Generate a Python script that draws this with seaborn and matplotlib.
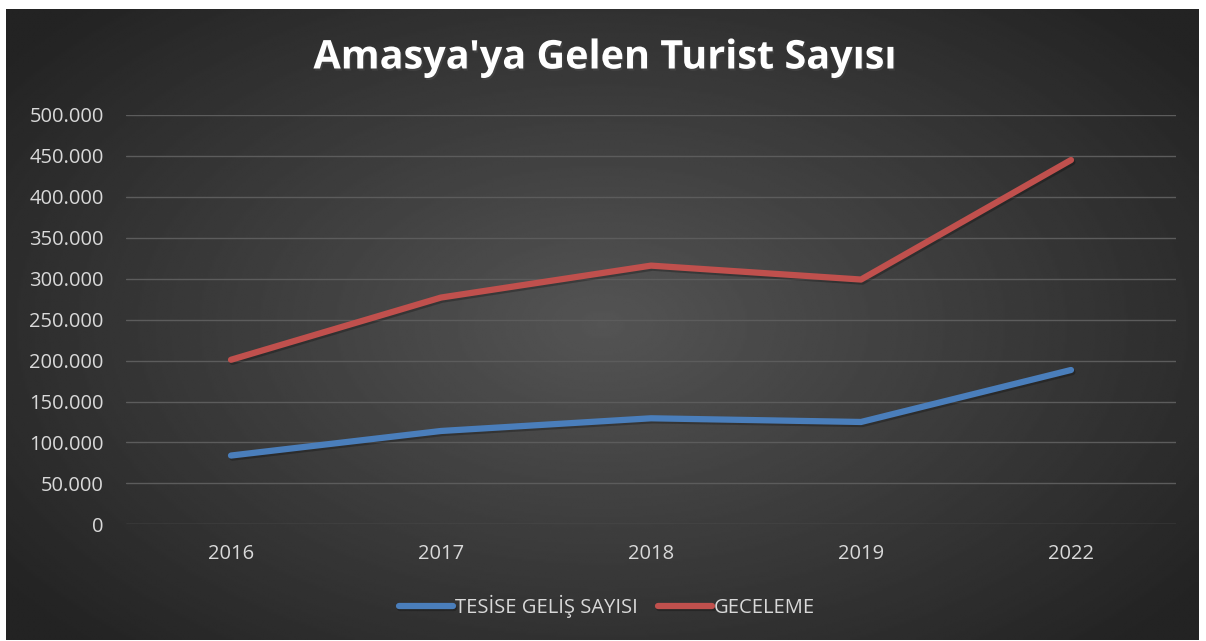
import matplotlib.pyplot as plt
import matplotlib.patheffects as pe
from matplotlib.ticker import FuncFormatter
import seaborn as sns
import pandas as pd
import numpy as np

# data
years = ["2016", "2017", "2018", "2019", "2022"]
tesise_gelis = [84000, 114000, 129500, 125000, 188500]
geceleme = [201000, 277000, 316000, 299000, 445000]
series_names = ["TESİSE GELİŞ SAYISI", "GECELEME"]

df = pd.DataFrame({
    "Yıl": years * 2,
    "Sayı": tesise_gelis + geceleme,
    "Seri": [series_names[0]] * len(years) + [series_names[1]] * len(years),
})

sns.set_style("dark")
plt.rcParams['font.family'] = ['Open Sans', 'DejaVu Sans']

fig = plt.figure(figsize=(12.06, 6.41), dpi=100)
fig.patch.set_facecolor('white')

# dark radial gradient background
bg = fig.add_axes([6 / 1206, 1 / 641, 1193 / 1206, 631 / 641])
yy, xx = np.mgrid[-1:1:300j, -1:1:600j]
r = np.sqrt((xx * 0.9) ** 2 + (yy * 0.8) ** 2)
shade = np.clip(0.33 - 0.17 * r, 0.14, 0.33)
bg.imshow(shade, cmap='gray', vmin=0, vmax=1, aspect='auto', interpolation='bilinear')
bg.set_axis_off()

ax = fig.add_axes([126 / 1206, (641 - 524.3) / 641, 1050 / 1206, 409.3 / 641])
ax.patch.set_alpha(0)

palette = {series_names[0]: "#4A7EBB", series_names[1]: "#C0504D"}
sns.lineplot(data=df, x="Yıl", y="Sayı", hue="Seri", palette=palette, sort=False,
             linewidth=4.5, ax=ax, legend=True)
for ln in ax.lines:
    ln.set_solid_capstyle('round')
    ln.set_path_effects([pe.SimpleLineShadow(offset=(1, -1.5), alpha=0.25, shadow_color='black'),
                         pe.Normal()])

ax.set_xlim(-0.5, 4.5)
ax.set_ylim(0, 500000)
ax.set_yticks(np.arange(0, 500001, 50000))
ax.yaxis.set_major_formatter(FuncFormatter(lambda v, p: f"{int(v):,}".replace(",", ".")))
ax.grid(axis='y', color='#5c5c5c', linewidth=1)
ax.grid(axis='x', visible=False)
for s in ax.spines.values():
    s.set_visible(False)
ax.tick_params(axis='both', colors='#d9d9d9', labelsize=14.5, length=0)
ax.tick_params(axis='y', pad=16)
ax.tick_params(axis='x', pad=14)
ax.set_xlabel("")
ax.set_ylabel("")

leg = ax.legend(loc='center', bbox_to_anchor=(0.458, -0.2), ncol=2, frameon=False,
                fontsize=14.5, handlelength=2.7, handletextpad=0.1, columnspacing=1.0,
                labelcolor='#d9d9d9')
for h in leg.legend_handles:
    h.set_linewidth(4.5)
    h.set_solid_capstyle('round')

fig.text(605 / 1206, 1 - 58 / 641, "Amasya'ya Gelen Turist Sayısı", color='white',
         fontsize=28.5, fontweight='bold', ha='center', va='center',
         path_effects=[pe.withSimplePatchShadow(offset=(1, -1.5), alpha=0.5)])

fig.savefig("out.png", dpi=100)
